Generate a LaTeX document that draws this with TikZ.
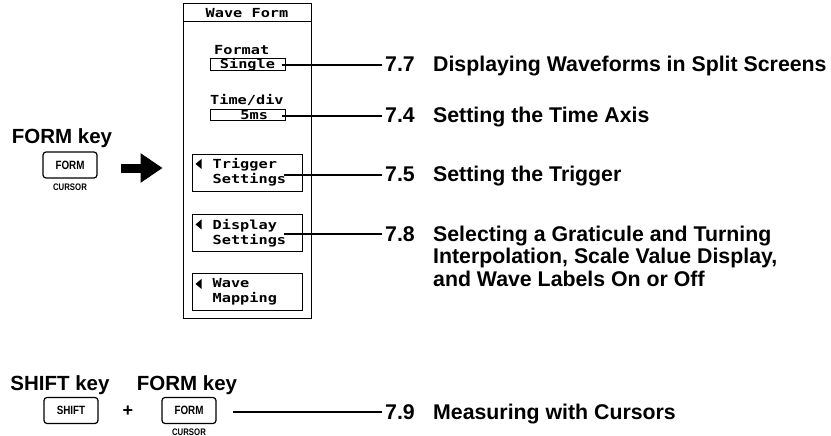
\documentclass[tikz,border=0pt]{standalone}
\usepackage{fontspec}
\setmainfont{Liberation Sans}
\newfontfamily\lcdfont[FakeStretch=1.22]{DejaVu Sans Mono}
\newfontfamily\keyfont[FakeStretch=0.82]{Liberation Sans}
\usetikzlibrary{arrows.meta,positioning,calc}
\newcommand{\secttext}[2]{\begin{tabular}[t]{@{}p{48pt}@{}l@{}}#1&#2\end{tabular}}

\begin{document}
\begin{tikzpicture}[x=1pt,y=-1pt,
  seclabel/.style={anchor=base west,inner sep=0pt,font=\fontsize{21.3}{22.5}\selectfont\bfseries},
  keylabel/.style={inner sep=0pt,font=\fontsize{20.5}{24}\selectfont\bfseries},
  keybtn/.style={draw,line width=1.2pt,rounded corners=3pt,minimum width=54pt,minimum height=26pt,
    inner sep=0pt,font=\keyfont\fontsize{12}{14}\selectfont\bfseries},
  subkey/.style={inner sep=0pt,font=\keyfont\fontsize{9.5}{11}\selectfont\bfseries},
  lcdtext/.style={inner sep=0pt,font=\lcdfont\fontsize{12.5}{15}\selectfont\bfseries},
  valbox/.style={draw,line width=1pt,minimum width=75pt,minimum height=11pt,inner sep=0pt,lcdtext},
  softkey/.style={draw,line width=1pt,minimum width=110pt,minimum height=37pt,inner sep=0pt},
  leader/.style={line width=1.3pt}
]
  \useasboundingbox (0,0) rectangle (831,436);
  % Key at the left
  \node[keylabel] (formlbl) at (62,138) {FORM key};
  \node[keybtn] (formkey) at (70,165) {FORM};
  \node[subkey] (cursor) at (70,187) {CURSOR};
  \draw[line width=9pt,-{Triangle[length=22pt,width=28pt]}]
    ([shift={(23,3)}]formkey.east) -- ([shift={(65,3)}]formkey.east);

  % Menu panel
  \node[draw,line width=1pt,minimum width=128pt,minimum height=314pt,inner sep=0pt] (panel) at (247,161) {};
  \draw[line width=1pt] ([yshift=-18pt]panel.north west) -- ([yshift=-18pt]panel.north east);
  \node[lcdtext] (title) at (247,13) {Wave Form};
  \node[lcdtext,anchor=west] (fmtlbl) at (214,50) {Format};
  \node[valbox] (fmtbox) at (247.5,64.5) {Single};
  \node[lcdtext,anchor=west] (tdlbl) at (210,100) {Time/div};
  \node[valbox,text width=41pt,align=right] (tdbox) at (247.5,115.5) {5ms};

  \node[softkey] (trig) at (247,172.5) {};
  \node[lcdtext,anchor=west,align=left] (trigtxt) at ($(trig.west)+(21,0)$) {Trigger\\Settings};
  \node[softkey] (disp) at (247,233) {};
  \node[lcdtext,anchor=west,align=left] (disptxt) at ($(disp.west)+(21,0)$) {Display\\Settings};
  \node[softkey] (wmap) at (247,292) {};
  \node[lcdtext,anchor=west,align=left] (wmaptxt) at ($(wmap.west)+(21,0)$) {Wave\\Mapping};
  % Soft key marks
  \foreach \t in {trigtxt,disptxt,wmaptxt}
    \fill ($(\t.north west)+(-17,5.5)$) -- ++(6,-5) -- ++(0,10) -- cycle;

  % Section references
  \node[seclabel] (s77) at (385,72) {\secttext{7.7}{Displaying Waveforms in Split Screens}};
  \node[seclabel] (s74) at (385,123) {\secttext{7.4}{Setting the Time Axis}};
  \node[seclabel] (s75) at (385,182) {\secttext{7.5}{Setting the Trigger}};
  \node[seclabel] (s78) at (385,241) {\secttext{7.8}{Selecting a Graticule and Turning\\
    &Interpolation, Scale Value Display,\\&and Wave Labels On or Off}};

  \draw[leader] ($(fmtbox.east)+(-4,0.5)$) -- ($(s77.base west)+(-3,-7)$);
  \draw[leader] ($(tdbox.east)+(-4,0.5)$) -- ($(s74.base west)+(-3,-7)$);
  \draw[leader] ($(trig.east)+(-19,2.5)$) -- ($(s75.base west)+(-3,-7)$);
  \draw[leader] ($(disp.east)+(-19,1)$) -- ($(s78.base west)+(-3,-7)$);

  % Keys at the bottom
  \node[keylabel] (shiftlbl) at (60,385) {SHIFT key};
  \node[keylabel] (formlbl2) at (187,385) {FORM key};
  \node[keybtn] (shiftkey) at (71,410.5) {SHIFT};
  \node[font=\fontsize{18}{20}\selectfont\bfseries,inner sep=0pt] (plus) at (128,411) {+};
  \node[keybtn] (formkey2) at (189,410.5) {FORM};
  \node[subkey] (cursor2) at (189,432) {CURSOR};
  \node[seclabel] (s79) at (385,419) {\secttext{7.9}{Measuring with Cursors}};
  \draw[leader] ($(formkey2.east)+(16,1.5)$) -- ($(s79.base west)+(-3,-7)$);
\end{tikzpicture}
\end{document}
